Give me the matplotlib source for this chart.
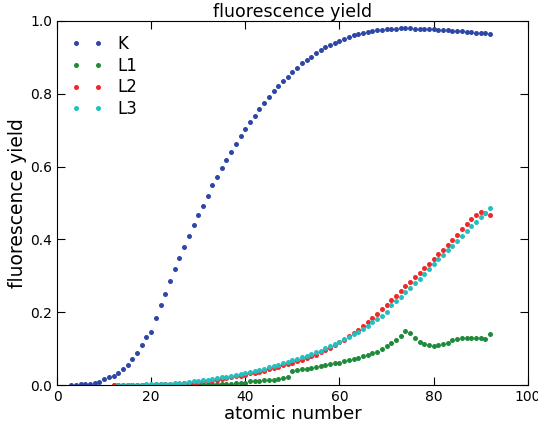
import numpy as np
import matplotlib
matplotlib.use("Agg")
import matplotlib.pyplot as plt

# atomic numbers
z_k = list(range(3, 93))
z_l = list(range(12, 93))

# K shell fluorescence yield, Z = 3..92
omega_k = [0.000, 0.001, 0.002, 0.003, 0.004, 0.005, 0.008, 0.016, 0.021, 0.026,   # 3-12
           0.033, 0.043, 0.056, 0.071, 0.089, 0.110, 0.131, 0.145, 0.184, 0.220,   # 13-22
           0.251, 0.287, 0.318, 0.350, 0.378, 0.410, 0.440, 0.468, 0.493, 0.520,   # 23-32
           0.549, 0.571, 0.595, 0.618, 0.641, 0.663, 0.684, 0.703, 0.723, 0.738,   # 33-42
           0.758, 0.775, 0.790, 0.808, 0.822, 0.835, 0.845, 0.859, 0.871, 0.883,   # 43-52
           0.892, 0.902, 0.912, 0.920, 0.927, 0.934, 0.940, 0.946, 0.951, 0.956,   # 53-62
           0.961, 0.963, 0.967, 0.970, 0.972, 0.974, 0.976, 0.977, 0.978, 0.979,   # 63-72
           0.980, 0.980, 0.980, 0.979, 0.979, 0.978, 0.977, 0.977, 0.976, 0.975,   # 73-82
           0.974, 0.973, 0.972, 0.971, 0.970, 0.969, 0.968, 0.967, 0.966, 0.965]   # 83-92

# L1, L2, L3 subshell fluorescence yields, Z = 12..92
omega_l1 = [0.000, 0.000, 0.000, 0.000, 0.000, 0.000, 0.001, 0.001, 0.001, 0.001,  # 12-21
            0.001, 0.001, 0.001, 0.001, 0.001, 0.002, 0.002, 0.002, 0.002, 0.003,  # 22-31
            0.003, 0.003, 0.004, 0.004, 0.004, 0.004, 0.005, 0.005, 0.005, 0.010,  # 32-41
            0.011, 0.012, 0.013, 0.014, 0.015, 0.017, 0.019, 0.022, 0.039, 0.041,  # 42-51
            0.043, 0.045, 0.047, 0.049, 0.052, 0.054, 0.057, 0.060, 0.062, 0.065,  # 52-61
            0.068, 0.072, 0.075, 0.079, 0.083, 0.087, 0.092, 0.099, 0.106, 0.115,  # 62-71
            0.125, 0.136, 0.148, 0.144, 0.129, 0.119, 0.114, 0.109, 0.108, 0.109,  # 72-81
            0.113, 0.116, 0.123, 0.127, 0.128, 0.128, 0.128, 0.128, 0.128, 0.127,  # 82-91
            0.141]                                                                  # 92

omega_l2 = [0.001, 0.000, 0.000, 0.000, 0.000, 0.001, 0.001, 0.001, 0.001, 0.002,  # 12-21
            0.002, 0.002, 0.003, 0.004, 0.004, 0.005, 0.006, 0.007, 0.009, 0.010,  # 22-31
            0.011, 0.013, 0.015, 0.017, 0.019, 0.021, 0.024, 0.026, 0.029, 0.032,  # 32-41
            0.034, 0.037, 0.040, 0.043, 0.047, 0.050, 0.054, 0.058, 0.062, 0.066,  # 42-51
            0.070, 0.075, 0.079, 0.084, 0.090, 0.096, 0.103, 0.110, 0.117, 0.125,  # 52-61
            0.134, 0.143, 0.152, 0.162, 0.173, 0.184, 0.196, 0.208, 0.220, 0.234,  # 62-71
            0.245, 0.258, 0.271, 0.283, 0.297, 0.309, 0.321, 0.333, 0.347, 0.359,  # 72-81
            0.371, 0.385, 0.399, 0.413, 0.429, 0.442, 0.455, 0.468, 0.476, 0.473,  # 82-91
            0.466]                                                                  # 92

omega_l3 = [np.nan, 0.001, 0.001, 0.001, 0.001, 0.001, 0.001, 0.002, 0.002, 0.002,  # 12-21
            0.003, 0.003, 0.004, 0.005, 0.006, 0.007, 0.008, 0.010, 0.012, 0.013,   # 22-31
            0.015, 0.017, 0.019, 0.021, 0.023, 0.026, 0.028, 0.031, 0.034, 0.036,   # 32-41
            0.039, 0.042, 0.045, 0.049, 0.052, 0.056, 0.060, 0.064, 0.068, 0.072,   # 42-51
            0.076, 0.081, 0.085, 0.090, 0.095, 0.101, 0.107, 0.113, 0.119, 0.126,   # 52-61
            0.133, 0.140, 0.147, 0.155, 0.163, 0.172, 0.181, 0.190, 0.200, 0.221,   # 62-71
            0.232, 0.243, 0.255, 0.267, 0.280, 0.292, 0.306, 0.319, 0.332, 0.346,   # 72-81
            0.358, 0.370, 0.383, 0.397, 0.410, 0.423, 0.436, 0.448, 0.461, 0.472,   # 82-91
            0.487]                                                                   # 92

fig = plt.figure(figsize=(5.38, 4.26), dpi=100)
ax = fig.add_axes([0.106, 0.096, 0.875, 0.855])

ms = 3.6
ax.plot(z_k, omega_k, 'o', color='#2e46a6', ms=ms, mew=0, label='K')
ax.plot(z_l, omega_l1, 'o', color='#1f8a3a', ms=ms, mew=0, label='L1')
ax.plot(z_l, omega_l2, 'o', color='#f02828', ms=ms, mew=0, label='L2')
ax.plot(z_l, omega_l3, 'o', color='#26bfbf', ms=ms, mew=0, label='L3')

ax.set_xlim(0, 100)
ax.set_ylim(0, 1.0)
ax.set_xticks([0, 20, 40, 60, 80, 100])
ax.set_yticks([0.0, 0.2, 0.4, 0.6, 0.8, 1.0])
ax.set_yticklabels(['0.0', '0.2', '0.4', '0.6', '0.8', '1.0'])
ax.tick_params(direction='in', top=True, right=True, labelsize=10, length=6)
ax.set_xlabel('atomic number', fontsize=13, labelpad=1)
ax.set_ylabel('fluorescence yield', fontsize=13.5, labelpad=2)
ax.set_title('fluorescence yield', fontsize=12.5, pad=3)
ax.legend(loc='upper left', frameon=False, numpoints=2, fontsize=12,
          handlelength=1.9, handletextpad=0.9, labelspacing=0.22,
          borderaxespad=0.45)

fig.savefig('out.png', dpi=100)
